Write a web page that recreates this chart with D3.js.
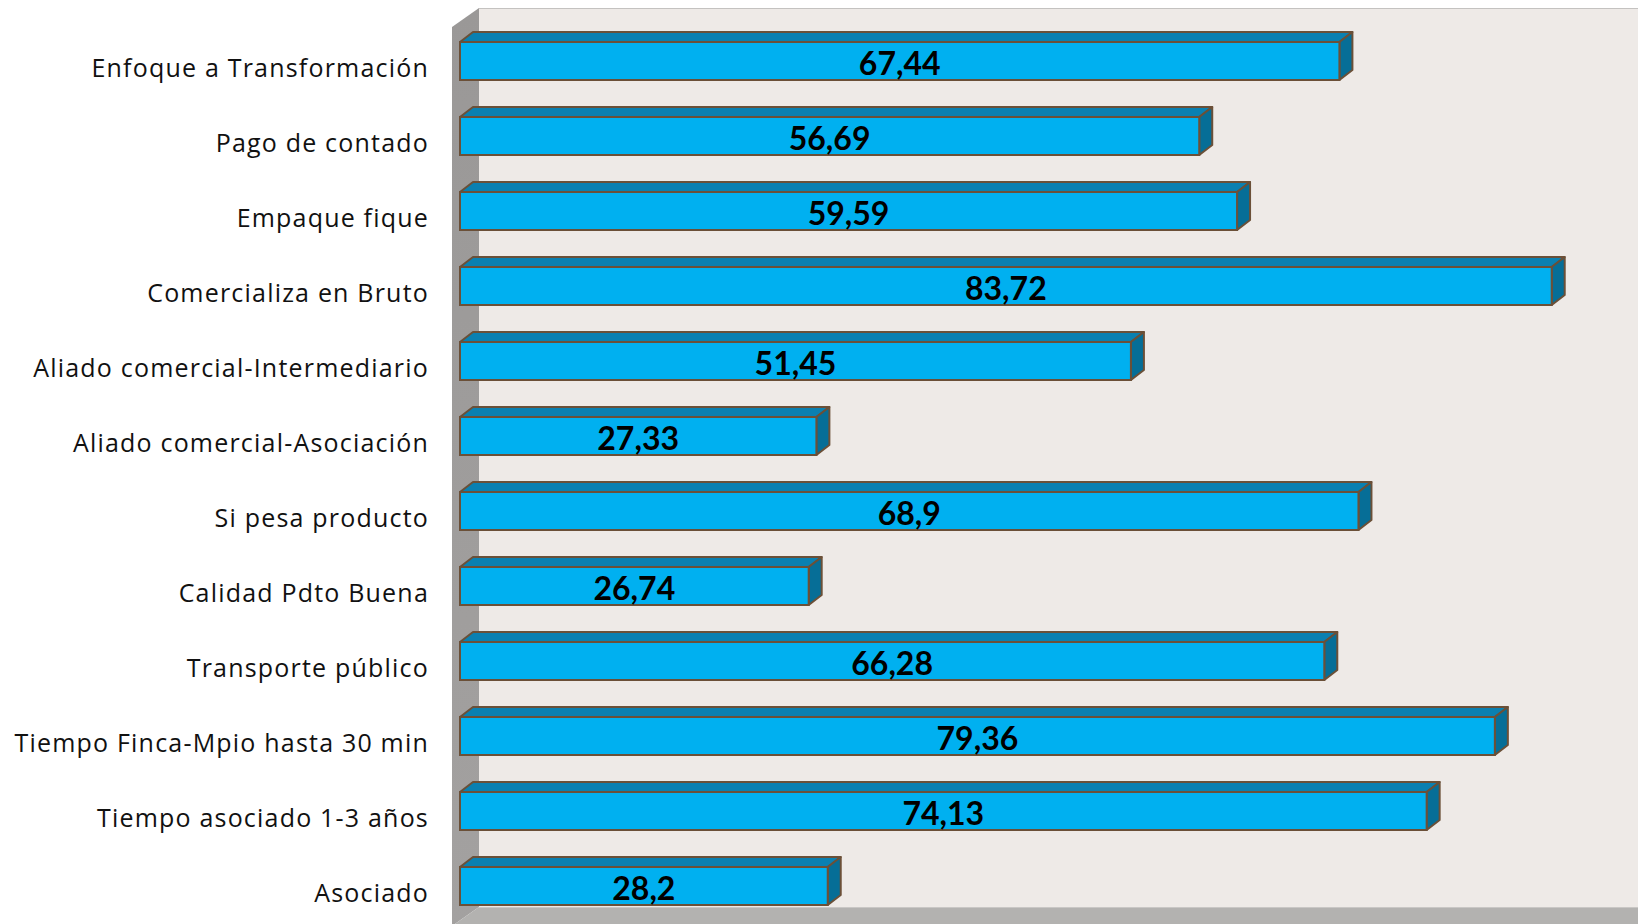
<!DOCTYPE html>
<html><head><meta charset="utf-8">
<script src="https://cdn.jsdelivr.net/npm/d3@7"></script>
<style>html,body{margin:0;padding:0;background:#fff;}svg{display:block;}</style>
</head><body>
<svg id="c" width="1638" height="924"></svg>
<script>
const categories = ["Enfoque a Transformación","Pago de contado","Empaque fique","Comercializa en Bruto","Aliado comercial-Intermediario","Aliado comercial-Asociación","Si pesa producto","Calidad Pdto Buena","Transporte público","Tiempo Finca-Mpio hasta 30 min","Tiempo asociado 1-3 años","Asociado"];
const values = [67.44,56.69,59.59,83.72,51.45,27.33,68.9,26.74,66.28,79.36,74.13,28.2];
const valueLabels = ["67,44","56,69","59,59","83,72","51,45","27,33","68,9","26,74","66,28","79,36","74,13","28,2"];

const svg = d3.select("#c");
const W = 1638, H = 924;
const x = d3.scaleLinear().domain([0,100]).range([460,1764]);
const p = 0.4933;
const y = d3.scaleBand().domain(categories).range([5,942]).paddingInner(p).paddingOuter(p);
const bw = y.bandwidth();
const ddx = 13, ddy = -10;   // bar depth
const wdx = 27, wdy = -19;   // wall depth

// back wall
const backL = 479, backT = 8, backB = 907;
svg.append("rect").attr("x",backL).attr("y",backT).attr("width",W-backL).attr("height",backB-backT).attr("fill","#eeeae7");
svg.append("line").attr("x1",backL).attr("x2",W).attr("y1",backT+0.5).attr("y2",backT+0.5).attr("stroke","#c4c2c0").attr("stroke-width",1);
// side wall
const defs = svg.append("defs");
const g1 = defs.append("linearGradient").attr("id","sw").attr("x1",0).attr("x2",0).attr("y1",0).attr("y2",1);
g1.append("stop").attr("offset","0").attr("stop-color","#9a9897");
g1.append("stop").attr("offset","1").attr("stop-color","#a3a1a0");
svg.append("polygon").attr("points",[[backL-wdx,backT-wdy],[backL,backT],[backL,backB],[backL-wdx,backB-wdy]].join(" ")).attr("fill","url(#sw)");
// floor
svg.append("polygon").attr("points",[[backL,backB],[W,backB],[W,backB-wdy],[backL-wdx,backB-wdy]].join(" ")).attr("fill","#b3b2b0");
svg.append("line").attr("x1",backL).attr("x2",W).attr("y1",backB+0.5).attr("y2",backB+0.5).attr("stroke","#c9c7c5");

const stroke = "#6b5038", sw = 2;
const bars = svg.append("g").selectAll("g").data(categories).join("g");
bars.each(function(c,i){
  const g = d3.select(this);
  const x0 = x(0), x1 = x(values[i]), t = y(c), b = t + bw;
  g.append("polygon").attr("points",[[x0,t],[x0+ddx,t+ddy],[x1+ddx,t+ddy],[x1,t]].join(" "))
    .attr("fill","#0a80b1").attr("stroke",stroke).attr("stroke-width",sw).attr("stroke-linejoin","round");
  g.append("polygon").attr("points",[[x1,t],[x1+ddx,t+ddy],[x1+ddx,b+ddy],[x1,b]].join(" "))
    .attr("fill","#066e97").attr("stroke",stroke).attr("stroke-width",sw).attr("stroke-linejoin","round");
  g.append("rect").attr("x",x0).attr("y",t).attr("width",x1-x0).attr("height",bw)
    .attr("fill","#00b0f0").attr("stroke",stroke).attr("stroke-width",sw);
  g.append("text").attr("x",(x0+x1)/2).attr("y",t+bw/2+14)
    .attr("text-anchor","middle").attr("font-family","Lato, 'Open Sans', sans-serif").attr("font-weight","bold")
    .attr("font-size",32).attr("fill","#000").text(valueLabels[i]);
});

// category labels
svg.append("g").selectAll("text").data(categories).join("text")
  .attr("x",429).attr("y",d=>y(d)+bw/2+16)
  .attr("text-anchor","end").attr("font-family","'Open Sans', sans-serif").attr("font-size",25)
  .attr("letter-spacing","1.2px")
  .attr("fill","#111").text(d=>d);
</script>
</body></html>
